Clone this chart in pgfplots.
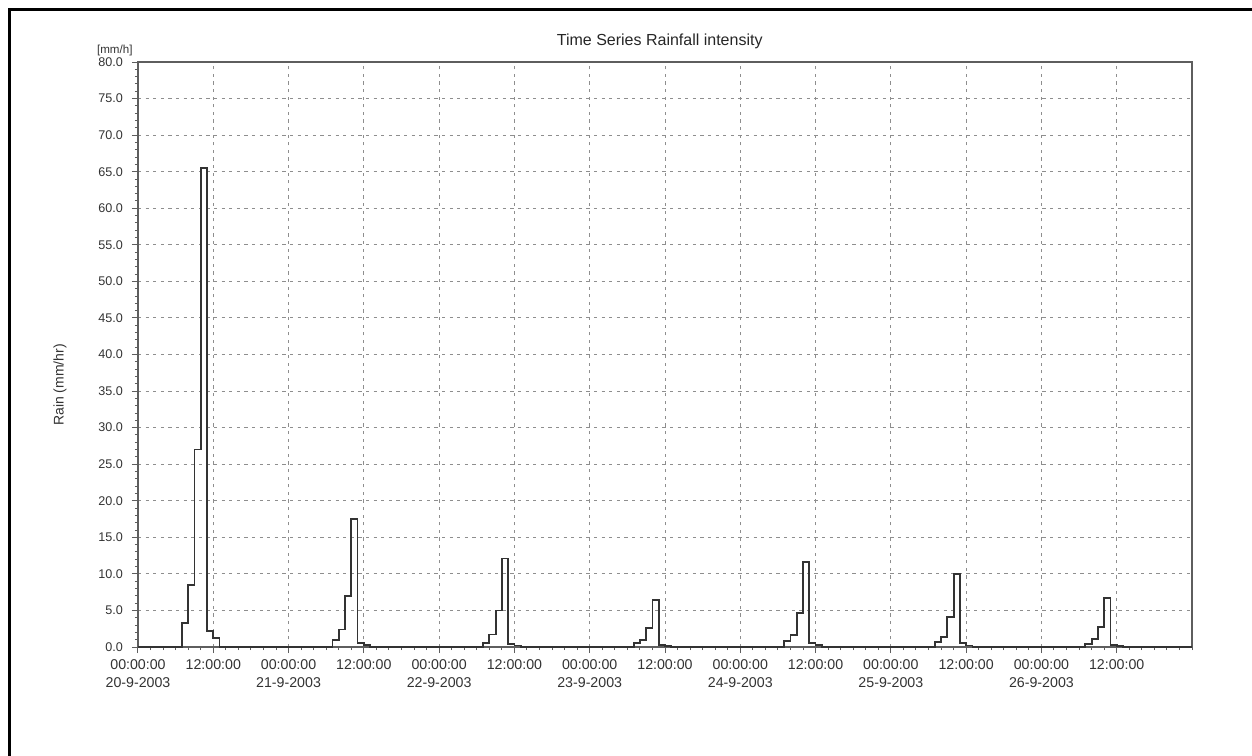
\documentclass[border=0pt]{standalone}
\usepackage{pgfplots}
\pgfplotsset{compat=1.18}
\usepackage{fontspec}
\setmainfont{Liberation Sans}
\definecolor{axgray}{HTML}{5E5E5E}
\definecolor{gridgray}{HTML}{8E8E8E}
\definecolor{linegray}{HTML}{333333}
\begin{document}
\begin{tikzpicture}
\useasboundingbox (-69pt,-54pt) rectangle (557pt,323.5pt);
\draw[line width=1.5pt] (-64pt,-60pt) -- (-64pt,318.5pt) -- (600pt,318.5pt);
\begin{axis}[
  at={(0,0)}, anchor=south west, scale only axis,
  width=527pt, height=292.5pt,
  xmin=0, xmax=168, ymin=0, ymax=80,
  xtick={0,12,...,156},
  minor xtick={0,2,...,168},
  xticklabels={{00:00:00\\20-9-2003},{12:00:00},{00:00:00\\21-9-2003},{12:00:00},{00:00:00\\22-9-2003},{12:00:00},{00:00:00\\23-9-2003},{12:00:00},{00:00:00\\24-9-2003},{12:00:00},{00:00:00\\25-9-2003},{12:00:00},{00:00:00\\26-9-2003},{12:00:00}},
  ytick={0,5,...,80}, minor y tick num=4,
  xtick pos=bottom, ytick pos=left,
  tick align=outside,
  major tick length=3pt, minor tick length=1.6pt,
  every tick/.style={axgray, line width=0.5pt},
  axis line style={axgray, line width=0.8pt},
  grid=major,
  major grid style={gridgray, line width=0.45pt, dash pattern=on 1.6pt off 2.2pt},
  xticklabel style={font=\fontsize{7.1}{8.6}\selectfont, align=center, text=black!80},
  yticklabel style={font=\fontsize{6.3}{7.5}\selectfont, text=black!80, xshift=-1pt,
    /pgf/number format/.cd, fixed, fixed zerofill, precision=1, assume math mode=true},
  ylabel={Rain (mm/hr)},
  ylabel style={at={(axis description cs:-0.074,0.448)}, anchor=center, font=\fontsize{7}{8}\selectfont, text=black!80},
  title={Time Series Rainfall intensity},
  title style={at={(axis description cs:0.495,1)}, anchor=base, yshift=2.5pt, font=\fontsize{8}{9.5}\selectfont, text=black!85},
  clip=false,
]
\addplot[const plot mark left, linegray, line width=0.9pt] coordinates {
(0,0) (7,3.3) (8,8.5) (9,27) (10,65.5) (11,2.2) (12,1.2) (13,0)
(31,1.0) (32,2.4) (33,7.0) (34,17.5) (35,0.6) (36,0.3) (37,0)
(55,0.6) (56,1.7) (57,5.0) (58,12.1) (59,0.45) (60,0.2) (61,0)
(79,0.5) (80,1.0) (81,2.6) (82,6.4) (83,0.27) (84,0.15) (85,0)
(103,0.8) (104,1.6) (105,4.6) (106,11.6) (107,0.55) (108,0.27) (109,0)
(127,0.65) (128,1.4) (129,4.1) (130,10.0) (131,0.5) (132,0.2) (133,0)
(151,0.45) (152,1.1) (153,2.7) (154,6.7) (155,0.3) (156,0.15) (157,0)
(168,0)
};
\node[font=\fontsize{5.8}{7}\selectfont, text=black!80, anchor=center] at (axis description cs:-0.022,1.019) {[mm/h]};
\end{axis}
\end{tikzpicture}
\end{document}
